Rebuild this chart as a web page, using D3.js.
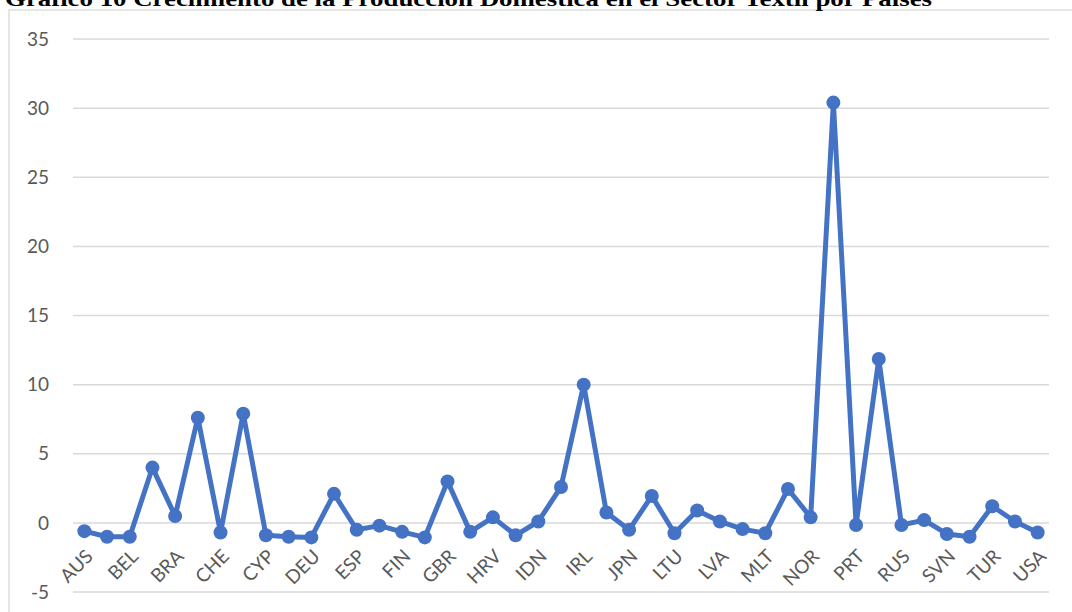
<!DOCTYPE html>
<html><head><meta charset="utf-8">
<script src="https://cdn.jsdelivr.net/npm/d3@7"></script>
<style>body{margin:0;background:#fff}svg{display:block}</style>
</head><body>
<svg id="c" width="1072" height="612"></svg>
<script>
const titleText = "Gráfico 10 Crecimiento de la Producción Doméstica en el Sector Textil por Países";
const countries = ["AUS","AUT","BEL","BGR","BRA","CAN","CHE","CHN","CYP","CZE","DEU","DNK","ESP","EST","FIN","FRA","GBR","GRC","HRV","HUN","IDN","IND","IRL","ITA","JPN","KOR","LTU","LUX","LVA","MEX","MLT","NLD","NOR","POL","PRT","ROU","RUS","SVK","SVN","SWE","TUR","TWN","USA"];
const growth = [-0.6,-1.0,-1.0,4.0,0.5,7.6,-0.7,7.9,-0.9,-1.0,-1.05,2.1,-0.5,-0.2,-0.65,-1.05,3.0,-0.65,0.4,-0.9,0.1,2.6,10.0,0.75,-0.5,1.95,-0.75,0.9,0.1,-0.45,-0.75,2.45,0.4,30.4,-0.15,11.85,-0.15,0.2,-0.8,-1.0,1.2,0.1,-0.7];
const yTicks = [-5,0,5,10,15,20,25,30,35];

const svg = d3.select("#c");
// frame
svg.append("rect").attr("x",9).attr("y",10).attr("width",1100).attr("height",700)
  .attr("fill","none").attr("stroke","#d9d9d9").attr("stroke-width",1.3);
// title
const t = svg.append("text").attr("x",5).attr("y",6)
  .attr("font-family","'Liberation Serif','Times New Roman',serif").attr("font-weight","bold")
  .attr("font-size",21).attr("fill","#000").text(titleText);
t.attr("textLength",927).attr("lengthAdjust","spacingAndGlyphs");

const x = d3.scalePoint().domain(countries).range([73,1049]).padding(0.5);
const y = d3.scaleLinear().domain([-5,35]).range([592,39]);

// gridlines
svg.append("g").selectAll("line").data(yTicks).join("line")
  .attr("x1",73).attr("x2",1049).attr("y1",d=>y(d)).attr("y2",d=>y(d))
  .attr("stroke","#d9d9d9").attr("stroke-width",1.5);

// y labels
svg.append("g").selectAll("text").data(yTicks).join("text")
  .attr("x",49).attr("y",d=>y(d)).attr("dy","0.35em").attr("text-anchor","end")
  .attr("font-family","Lato, 'Open Sans', sans-serif").attr("font-size",19).attr("fill","#595959")
  .text(d=>d);

// x labels (every other)
svg.append("g").selectAll("text").data(countries.filter((d,i)=>i%2===0)).join("text")
  .attr("transform",d=>`translate(${x(d)+5},${y(0)+30}) rotate(-45)`)
  .attr("text-anchor","end").attr("dy","0.35em")
  .attr("font-family","Lato, 'Open Sans', sans-serif").attr("font-size",19).attr("fill","#595959")
  .text(d=>d);

// line
const line = d3.line().x((d,i)=>x(countries[i])).y(d=>y(d));
svg.append("path").datum(growth).attr("d",line).attr("fill","none")
  .attr("stroke","#4472C4").attr("stroke-width",5).attr("stroke-linejoin","round");
svg.append("g").selectAll("circle").data(growth).join("circle")
  .attr("cx",(d,i)=>x(countries[i])).attr("cy",d=>y(d)).attr("r",7).attr("fill","#4472C4");
</script>
</body></html>
